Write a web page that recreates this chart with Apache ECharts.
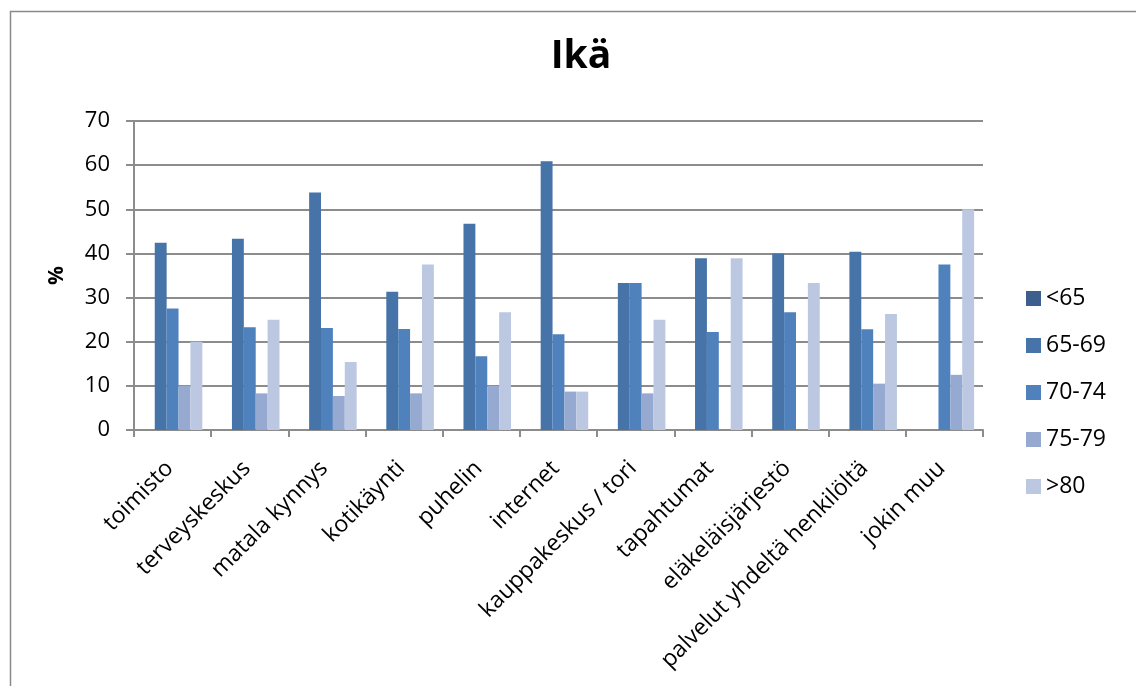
<!DOCTYPE html>
<html>
<head>
<meta charset="utf-8">
<script src="https://cdn.jsdelivr.net/npm/echarts@6/dist/echarts.min.js"></script>
<style>
  html, body { margin: 0; padding: 0; background: #ffffff; }
  #chart { width: 1136px; height: 686px; }
</style>
</head>
<body>
<div id="chart"></div>
<script>
// Categories (service channels) and age groups
const categories = [
  'toimisto', 'terveyskeskus', 'matala kynnys', 'kotikäynti', 'puhelin',
  'internet', 'kauppakeskus / tori', 'tapahtumat', 'eläkeläisjärjestö',
  'palvelut yhdeltä henkilöltä', 'jokin muu'
];
const ageGroups = ['<65', '65-69', '70-74', '75-79', '>80'];

// Share of respondents (%) per age group
const under65 = [0, 0, 0, 0, 0, 0, 0, 0, 0, 0, 0];
const age65to69 = [42.4, 43.3, 53.8, 31.3, 46.7, 60.9, 33.3, 38.9, 40.0, 40.4, 0];
const age70to74 = [27.5, 23.3, 23.1, 22.9, 16.7, 21.7, 33.3, 22.2, 26.7, 22.8, 37.5];
const age75to79 = [10.0, 8.3, 7.7, 8.3, 10.0, 8.7, 8.3, 0, 0, 10.5, 12.5];
const over80 = [20.0, 25.0, 15.4, 37.5, 26.7, 8.7, 25.0, 38.9, 33.3, 26.3, 50.0];

const yTicks = { min: 0, max: 70, interval: 10 };

const seriesValues = [under65, age65to69, age70to74, age75to79, over80];
const colors = ['#3c5f8e', '#4673a8', '#4f81bd', '#95a9d1', '#bcc8e1'];

const font = '"Open Sans", "Noto Sans", sans-serif';
const gridColor = '#8c8c8c';

const chart = echarts.init(document.getElementById('chart'), null, { renderer: 'canvas' });

chart.setOption({
  backgroundColor: '#ffffff',
  animation: false,
  color: colors,
  title: {
    text: 'Ikä',
    left: 576,
    top: 32,
    textAlign: 'center',
    textStyle: { fontFamily: font, fontWeight: 'bold', fontSize: 39, color: '#000000' }
  },
  legend: {
    orient: 'vertical',
    left: 1026,
    top: 287,
    padding: 0,
    itemWidth: 15,
    itemHeight: 15,
    itemGap: 24,
    icon: 'rect',
    data: ageGroups,
    textStyle: { fontFamily: font, fontSize: 23, color: '#000000' }
  },
  grid: { left: 134, right: 153, top: 121, bottom: 256, containLabel: false },
  xAxis: {
    type: 'category',
    data: categories,
    axisLine: { lineStyle: { color: gridColor, width: 2 } },
    axisTick: { show: true, length: 7, alignWithLabel: false, lineStyle: { color: gridColor, width: 2 } },
    axisLabel: {
      interval: 0,
      rotate: 45,
      margin: 32,
      padding: [0, 4, 0, 0],
      fontFamily: font,
      fontSize: 23,
      color: '#000000'
    }
  },
  yAxis: {
    type: 'value',
    min: yTicks.min,
    max: yTicks.max,
    interval: yTicks.interval,
    name: '%',
    nameLocation: 'middle',
    nameRotate: 90,
    nameGap: 66,
    nameTextStyle: { fontFamily: font, fontWeight: 'bold', fontSize: 21, color: '#000000' },
    axisLine: { show: true, lineStyle: { color: gridColor, width: 2 } },
    axisTick: { show: true, length: 8, lineStyle: { color: gridColor, width: 2 } },
    splitLine: { show: true, lineStyle: { color: gridColor, width: 2 } },
    axisLabel: { margin: 24, fontFamily: font, fontSize: 22, color: '#000000' }
  },
  series: ageGroups.map((name, i) => ({
    name: name,
    type: 'bar',
    data: seriesValues[i],
    barGap: '0%',
    barCategoryGap: '23%',
    itemStyle: { color: colors[i] }
  })),
  graphic: [{
    type: 'rect',
    left: 8,
    top: 9,
    shape: { width: 1127, height: 700 },
    style: { fill: 'none', stroke: '#8a8a8a', lineWidth: 1.5 },
    silent: true
  }]
});
</script>
</body>
</html>
